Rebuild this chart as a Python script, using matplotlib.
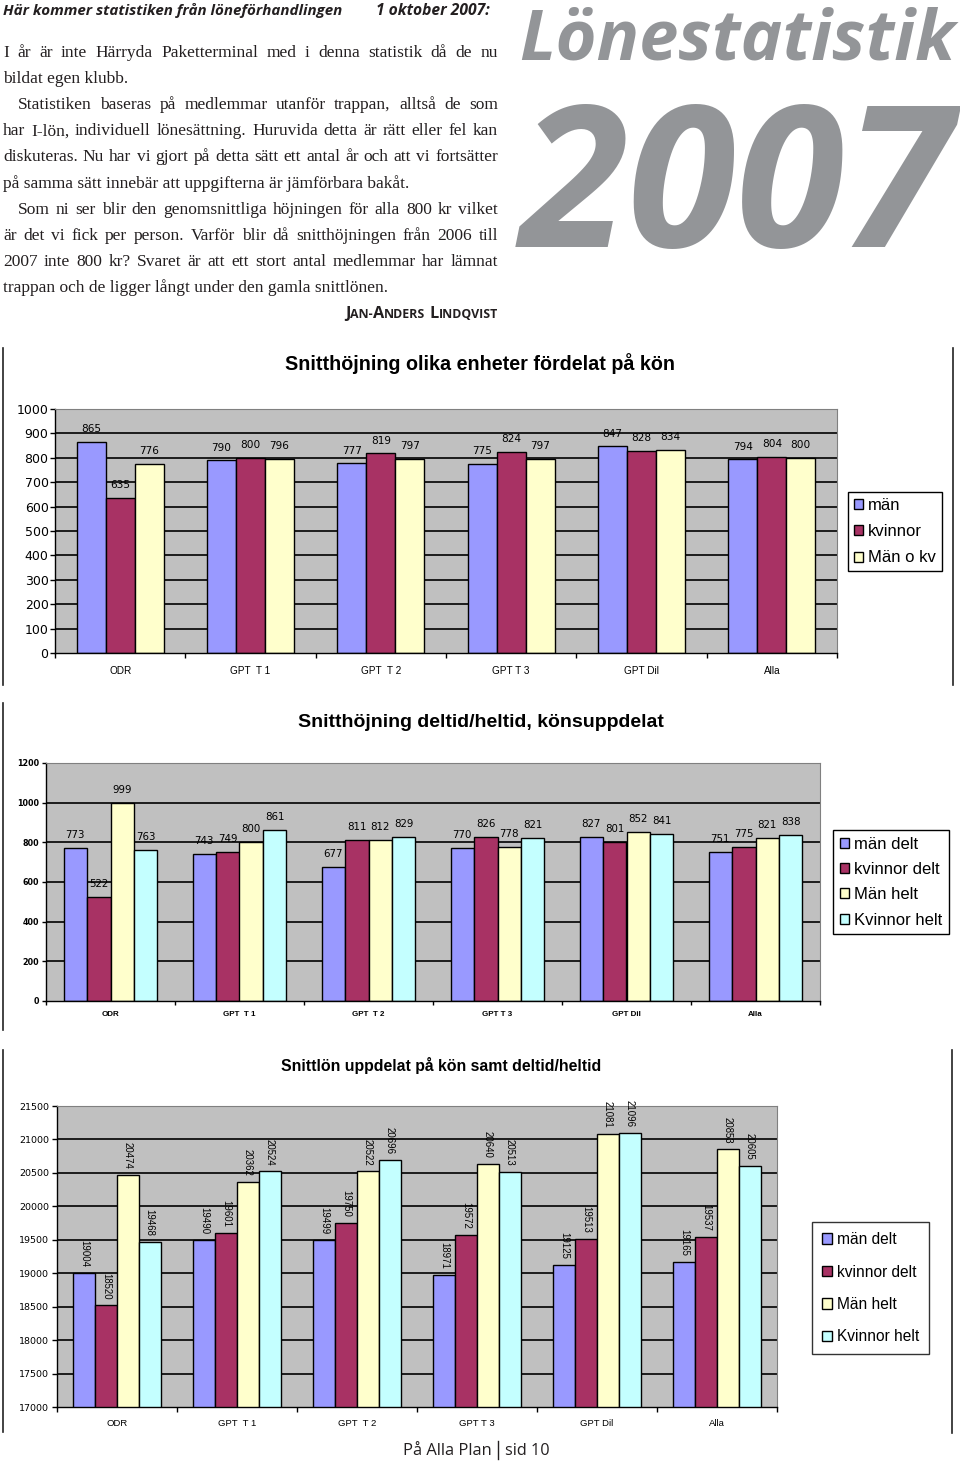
import matplotlib
matplotlib.use('Agg')
import matplotlib.pyplot as plt
from matplotlib import font_manager
from matplotlib.lines import Line2D
import numpy as np

W, H = 960, 1461

# ---- data ----
categories = ['ODR', 'GPT  T 1', 'GPT  T 2', 'GPT T 3', 'GPT Dil', 'Alla']

hojning_man = [865, 790, 777, 775, 847, 794]
hojning_kvinnor = [635, 800, 819, 824, 828, 804]
hojning_alla = [776, 796, 797, 797, 834, 800]
names_kon = ['män', 'kvinnor', 'Män o kv']

deltid_man_delt = [773, 743, 677, 770, 827, 751]
deltid_kvinnor_delt = [522, 749, 811, 826, 801, 775]
deltid_man_helt = [999, 800, 812, 778, 852, 821]
deltid_kvinnor_helt = [763, 861, 829, 821, 841, 838]

lon_man_delt = [19004, 19490, 19499, 18971, 19125, 19165]
lon_kvinnor_delt = [18520, 19601, 19750, 19572, 19513, 19537]
lon_man_helt = [20474, 20362, 20522, 20640, 21081, 20853]
lon_kvinnor_helt = [19468, 20524, 20696, 20513, 21096, 20605]
names_tid = ['män delt', 'kvinnor delt', 'Män helt', 'Kvinnor helt']

para = [
    ('I år är inte Härryda Paketterminal med i denna statistik då de nu', 0, True),
    ('bildat egen klubb.', 0, False),
    ('Statistiken baseras på medlemmar utanför trappan, alltså de som', 15, True),
    ('har I-lön, individuell lönesättning. Huruvida detta är rätt eller fel kan', 0, True),
    ('diskuteras. Nu har vi gjort på detta sätt ett antal år och att vi fortsätter', 0, True),
    ('på samma sätt innebär att uppgifterna är jämförbara bakåt.', 0, False),
    ('Som ni ser blir den genomsnittliga höjningen för alla 800 kr vilket', 15, True),
    ('är det vi fick per person. Varför blir då snitthöjningen från 2006 till', 0, True),
    ('2007 inte 800 kr? Svaret är att ett stort antal medlemmar har lämnat', 0, True),
    ('trappan och de ligger långt under den gamla snittlönen.', 0, False),
]

c_blue = '#9999FF'
c_plum = '#A83264'
c_yellow = '#FFFFCC'
c_cyan = '#C4FFFF'
GREY = '#939598'


def has_font(name, italic=False, bold=False):
    for f in font_manager.fontManager.ttflist:
        if f.name != name:
            continue
        wt = f.weight if isinstance(f.weight, int) else font_manager.weight_dict.get(f.weight, 400)
        if (f.style in ('italic', 'oblique')) == italic and (wt >= 600) == bold:
            return True
    return False


def first_font(names, italic=False, bold=False):
    for n in names:
        if has_font(n, italic, bold):
            return n
    return 'DejaVu Sans'


HEAD = first_font(['Open Sans', 'Noto Sans', 'Lato'], italic=True, bold=True)
FOOT = first_font(['Open Sans', 'Noto Sans', 'Lato'])
SIGF = first_font(['Open Sans', 'Noto Sans', 'Lato'], bold=True)
SERIF = first_font(['Liberation Serif', 'DejaVu Serif'])
ARIAL = 'Liberation Sans'
NARROW = first_font(['Liberation Sans Narrow', 'Liberation Sans'])
NUM = 'DejaVu Sans'

fig = plt.figure(figsize=(W / 100, H / 100), dpi=100)
renderer = fig.canvas.get_renderer()


def put(x, y, s, **kw):
    return fig.text(x / W, 1 - y / H, s, **kw)


def width_of(t):
    return t.get_window_extent(renderer).width


def fit(x, y, s, width, **kw):
    t = put(x, y, s, **kw)
    t.set_fontsize(t.get_fontsize() * width / width_of(t))
    return t


def vline(x, y0, y1, lw=1.2, color='#222222'):
    fig.add_artist(Line2D([x / W, x / W], [1 - y0 / H, 1 - y1 / H],
                          transform=fig.transFigure, color=color, lw=lw))


# ---- header text ----
hk = dict(family=HEAD, style='italic', weight='bold', color='#231f20', va='baseline')
fit(3, 15, 'Här kommer statistiken från löneförhandlingen', 340, **hk)
fit(376, 15, '1 oktober 2007:', 114, **hk)

gk = dict(family=HEAD, style='italic', weight='bold', color=GREY, va='baseline')
fit(519, 60, 'Lönestatistik', 438, **gk)
fit(520, 247, '2007', 432, **gk)

# justified paragraph
x0, x1 = 3, 498
fs = 11.5
pk = dict(family=SERIF, color='#231f20', va='baseline')
ratio = 0
for s, ind, just in para:
    if just:
        t = put(0, 0, s, fontsize=fs, **pk)
        ratio = max(ratio, width_of(t) / (x1 - x0 - ind))
        t.remove()
fs = min(13.2, fs * 0.975 / ratio)
for k, (s, ind, just) in enumerate(para):
    y = 57 + 26.1 * k
    if not just:
        put(x0 + ind, y, s, fontsize=fs, **pk)
        continue
    words = s.split()
    ts = [put(0, y, w_, fontsize=fs, **pk) for w_ in words]
    ws = [width_of(t) for t in ts]
    gap = (x1 - x0 - ind - sum(ws)) / (len(words) - 1)
    cur = x0 + ind
    for t, w_ in zip(ts, ws):
        t.set_x(cur / W)
        cur += w_ + gap

# small caps signature
sig = [('J', 1), ('AN-', 0), ('A', 1), ('NDERS', 0), (' ', 2), ('L', 1), ('INDQVIST', 0)]
big, small = 10.0, 7.6
parts = []
for s, kind in sig:
    if kind == 2:
        parts.append((None, big * 100 / 72 * 0.25))
        continue
    t = put(0, 318, s, fontsize=big if kind else small, family=SIGF, weight='bold',
            color='#231f20', va='baseline')
    parts.append((t, width_of(t)))
total = sum(w_ for _, w_ in parts)
sc = 153 / total
cur = 498 - 153
for t, w_ in parts:
    if t is not None:
        t.set_fontsize(t.get_fontsize() * sc)
        t.set_x(cur / W)
    cur += w_ * sc

# footer
fk = dict(family=FOOT, color='#231f20', va='baseline')
fit(492, 1455, 'På Alla Plan', 89, ha='right', **fk)
fit(505, 1455, 'sid 10', 45, ha='left', **fk)
vline(498, 1441, 1459, lw=1.0, color='#231f20')

# frames around the pasted charts
vline(3, 348, 685)
vline(953, 348, 685)
vline(3, 703, 1030)
vline(3, 1050, 1432)
vline(952, 1050, 1433)


def draw_chart(box, series, colors, ymin, ymax, ystep, tick_kw, xlab_kw, xpad,
               val_kw, val_off, val_rot=0, ticklen=3.6, ypad=1):
    l, t, r, b = box
    ax = fig.add_axes([l / W, 1 - b / H, (r - l) / W, (b - t) / H])
    ax.set_facecolor('#C0C0C0')
    n = len(series)
    w = 1 / (n + 1.5)
    x = np.arange(len(categories))
    yt = np.arange(ymin, ymax + 1, ystep)
    ax.hlines(yt[1:-1], -0.5, len(categories) - 0.5, color='black', lw=1.2, zorder=1)
    conts = []
    for j, (vals, c) in enumerate(zip(series, colors)):
        pos = x + (j - (n - 1) / 2) * w
        bc = ax.bar(pos, vals, w, color=c, edgecolor='black', linewidth=1.0, zorder=2)
        conts.append(bc)
        for p, v in zip(pos, vals):
            ax.annotate(str(v), (p, v), xytext=(0, val_off), textcoords='offset points',
                        ha='center', va='bottom', rotation=val_rot, zorder=3, **val_kw)
    ax.set_xlim(-0.5, len(categories) - 0.5)
    ax.set_ylim(ymin, ymax)
    ax.set_yticks(yt)
    ax.set_yticklabels([str(v) for v in yt], **tick_kw)
    ax.set_xticks(x)
    ax.set_xticklabels(categories, **xlab_kw)
    ax.set_xticks(np.arange(-0.5, len(categories)), minor=True)
    ax.tick_params(axis='x', which='major', length=0, pad=xpad)
    ax.tick_params(axis='x', which='minor', length=ticklen, width=1, direction='out')
    ax.tick_params(axis='y', length=ticklen, width=1, pad=ypad, direction='out')
    for s in ['top', 'right']:
        ax.spines[s].set_color('#808080')
        ax.spines[s].set_linewidth(0.8)
    for s in ['left', 'bottom']:
        ax.spines[s].set_color('black')
        ax.spines[s].set_linewidth(1.0)
    return ax, conts


def add_legend(ax, conts, names, x, y, size, spacing, bpad, hl, edge='black'):
    leg = ax.legend(conts, names, loc='upper left', bbox_to_anchor=(x / W, 1 - y / H),
                    bbox_transform=fig.transFigure, prop={'family': ARIAL, 'size': size},
                    fancybox=False, edgecolor=edge, framealpha=1, borderaxespad=0,
                    handlelength=hl, handleheight=hl, handletextpad=0.3,
                    labelspacing=spacing, borderpad=bpad)
    leg.get_frame().set_linewidth(1.0)
    return leg


# ---- chart 1 ----
ax1, c1 = draw_chart((55, 409, 837, 653),
                     [hojning_man, hojning_kvinnor, hojning_alla],
                     [c_blue, c_plum, c_yellow], 0, 1000, 100,
                     dict(family=NUM, fontsize=9), dict(family=ARIAL, fontsize=7.2), 9.2,
                     dict(family=NUM, fontsize=7.6), 5.5)
add_legend(ax1, c1, names_kon, 848, 492, 12, 0.68, 0.35, 0.55)
fit(480, 370, 'Snitthöjning olika enheter fördelat på kön', 391, ha='center',
    va='baseline', family=ARIAL, weight='bold')

# ---- chart 2 ----
ax2, c2 = draw_chart((46, 763, 820, 1001),
                     [deltid_man_delt, deltid_kvinnor_delt, deltid_man_helt, deltid_kvinnor_helt],
                     [c_blue, c_plum, c_yellow, c_cyan], 0, 1200, 200,
                     dict(family=NUM, fontsize=5.8, fontweight='bold'),
                     dict(family=ARIAL, fontsize=5.8, fontweight='bold'), 7,
                     dict(family=NUM, fontsize=7.4), 5.8, ticklen=3, ypad=2)
add_legend(ax2, c2, names_tid, 833, 830, 12, 0.62, 0.4, 0.55)
fit(481, 727, 'Snitthöjning deltid/heltid, könsuppdelat', 367, ha='center',
    va='baseline', family=ARIAL, weight='bold')

# ---- chart 3 ----
val3 = 8.2 if NARROW != ARIAL else 6.9
ax3, c3 = draw_chart((57, 1106, 777, 1407),
                     [lon_man_delt, lon_kvinnor_delt, lon_man_helt, lon_kvinnor_helt],
                     [c_blue, c_plum, c_yellow, c_cyan], 17000, 21500, 500,
                     dict(family=NUM, fontsize=6.8), dict(family=ARIAL, fontsize=6.8), 8.5,
                     dict(family=NARROW, fontsize=val3), 4.3, val_rot=270, ypad=2)
add_legend(ax3, c3, names_tid, 812, 1222, 11.2, 1.12, 0.65, 0.65, edge='#333333')
fit(441, 1071, 'Snittlön uppdelat på kön samt deltid/heltid', 321, ha='center',
    va='baseline', family=ARIAL, weight='bold')

fig.savefig('out.png', dpi=100)
